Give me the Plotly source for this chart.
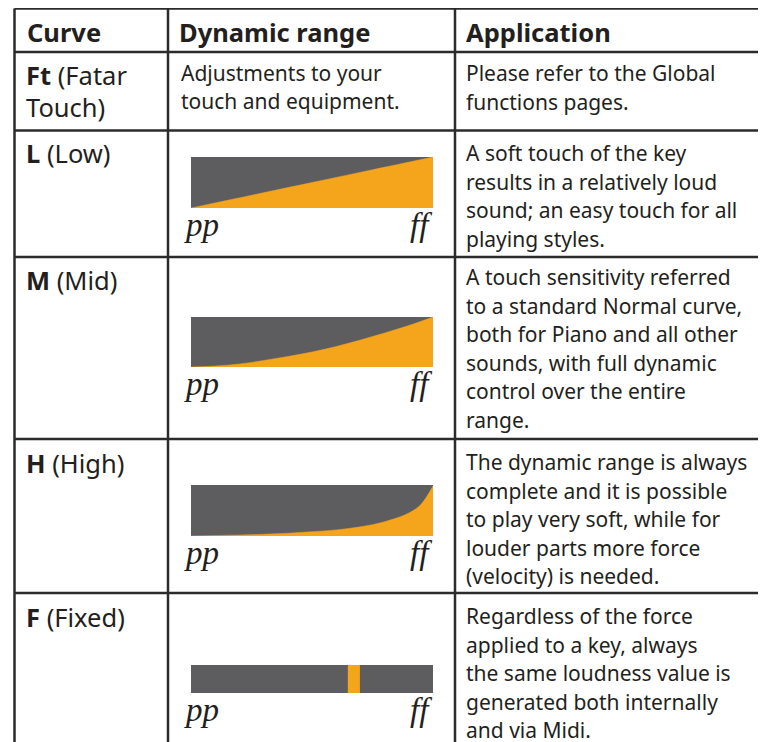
import plotly.graph_objects as go

W, H = 766, 742
OFF = 8  # page margin of the html body

# ---------------- data ----------------
header_labels = ["Curve", "Dynamic range", "Application"]
curve_labels = [["<b>Ft</b> (Fatar", "Touch)"], ["<b>L</b> (Low)"], ["<b>M</b> (Mid)"],
                ["<b>H</b> (High)"], ["<b>F</b> (Fixed)"]]
ft_dynamic_text = ["Adjustments to your", "touch and equipment."]
application_texts = [
    ["Please refer to the Global", "functions pages."],
    ["A soft touch of the key", "results in a relatively loud",
     "sound; an easy touch for all", "playing styles."],
    ["A touch sensitivity referred", "to a standard Normal curve,",
     "both for Piano and all other", "sounds, with full dynamic",
     "control over the entire", "range."],
    ["The dynamic range is always", "complete and it is possible",
     "to play very soft, while for", "louder parts more force",
     "(velocity) is needed."],
    ["Regardless of the force", "applied to a key, always",
     "the same loudness value is", "generated both internally",
     "and via Midi."],
]

# touch curves: key force (0..1) -> loudness (0..1)
low_force = [0.0, 0.25, 0.5, 0.75, 1.0]
low_level = [0.0, 0.25, 0.5, 0.75, 1.0]
mid_force = [0.0, 0.1, 0.2, 0.3, 0.4, 0.5, 0.6, 0.7, 0.8, 0.9, 1.0]
mid_level = [0.0, 0.02, 0.06, 0.13, 0.21, 0.30, 0.41, 0.54, 0.68, 0.83, 1.0]
high_force = [0.0, 0.1, 0.2, 0.3, 0.4, 0.5, 0.6, 0.7, 0.8, 0.9, 0.95, 1.0]
high_level = [0.0, 0.01, 0.02, 0.035, 0.055, 0.085, 0.12, 0.18, 0.28, 0.45, 0.62, 0.98]
fixed_band = [0.648, 0.698]   # force position of the fixed loudness marker

# ---------------- styles ----------------
GRAY = "#5d5c5e"
ORANGE = "#f5a51b"
LINE = "#2b2b2b"
SANS = "Noto Sans, Open Sans, sans-serif"
SERIF = "Liberation Serif, DejaVu Serif, serif"

def py(y):
    return 1 - (y - OFF) / H

def px(x):
    return (x - OFF) / W

fig = go.Figure()

# table grid
col_x = [14.5, 168, 455]
row_y = [8.5, 52, 130.5, 257, 439, 593]
shapes = []
for y in row_y:
    shapes.append(dict(type="line", xref="paper", yref="paper", x0=px(col_x[0]), x1=1.05,
                       y0=py(y), y1=py(y), line=dict(color=LINE, width=2.5)))
for x in col_x:
    shapes.append(dict(type="line", xref="paper", yref="paper", x0=px(x), x1=px(x),
                       y0=py(row_y[0]), y1=-0.05, line=dict(color=LINE, width=2.5)))

ann = []
def text(x, y, s, size, bold=False, font=SANS, italic=False):
    ann.append(dict(xref="paper", yref="paper", x=px(x), y=py(y), text=s, showarrow=False,
                    xanchor="left", yanchor="middle",
                    font=dict(family=font, size=size, color="#231f20",
                              weight="bold" if bold else "normal",
                              style="italic" if italic else "normal")))

for x, s in zip([25, 177, 464], header_labels):
    text(x, 32, s, 25.5, bold=True)

curve_label_y = [[75, 107], [153], [280], [463], [617]]
for lines, ys in zip(curve_labels, curve_label_y):
    for s, y in zip(lines, ys):
        text(24, y, s, 25.5)

for s, y in zip(ft_dynamic_text, [73, 101]):
    text(179, y, s, 21)

app_start = [73, 153, 277, 462, 616]
for lines, y0 in zip(application_texts, app_start):
    for i, s in zip(range(len(lines)), lines):
        text(464, y0 + i * 28.6, s, 21)

# curve panels (bar box in pixels: y_top, y_bottom)
bx0, bx1 = 191, 433
panels = [
    (157, 208, low_force, low_level),
    (317, 367, mid_force, mid_level),
    (485, 536, high_force, high_level),
    (665, 693, None, None),
]
layout_axes = {}
for k, (yt, yb, xs, ys) in enumerate(panels, start=1):
    xa = "x" if k == 1 else f"x{k}"
    ya = "y" if k == 1 else f"y{k}"
    fig.add_trace(go.Scatter(x=[0, 1], y=[1, 1], fill="tozeroy", fillcolor=GRAY,
                             line=dict(width=0), mode="lines", xaxis=xa, yaxis=ya,
                             hoverinfo="skip", showlegend=False))
    if xs is not None:
        fig.add_trace(go.Scatter(x=xs, y=ys, fill="tozeroy", fillcolor=ORANGE,
                                 line=dict(width=0.5, color=ORANGE, shape="spline", smoothing=1.0),
                                 mode="lines", xaxis=xa, yaxis=ya,
                                 hoverinfo="skip", showlegend=False))
    else:
        fig.add_trace(go.Scatter(x=[fixed_band[0], fixed_band[1], fixed_band[1], fixed_band[0], fixed_band[0]],
                                 y=[0, 0, 1, 1, 0], fill="toself", fillcolor=ORANGE,
                                 line=dict(width=0), mode="lines", xaxis=xa, yaxis=ya,
                                 hoverinfo="skip", showlegend=False))
    axname = "xaxis" if k == 1 else f"xaxis{k}"
    ayname = "yaxis" if k == 1 else f"yaxis{k}"
    layout_axes[axname] = dict(domain=[px(bx0), px(bx1)], range=[0, 1], visible=False,
                               fixedrange=True, anchor=ya)
    layout_axes[ayname] = dict(domain=[py(yb), py(yt)], range=[0, 1], visible=False,
                               fixedrange=True, anchor=xa)
    # pp / ff labels
    text(182, yb + 17, "pp", 33, font=SERIF, italic=True)
    text(408, yb + 17, "ff", 33, font=SERIF, italic=True)

fig.update_layout(width=W, height=H, margin=dict(l=0, r=0, t=0, b=0),
                  paper_bgcolor="white", plot_bgcolor="rgba(0,0,0,0)",
                  shapes=shapes, annotations=ann, showlegend=False, **layout_axes)

fig.write_html("out.html", config={"displayModeBar": False})
